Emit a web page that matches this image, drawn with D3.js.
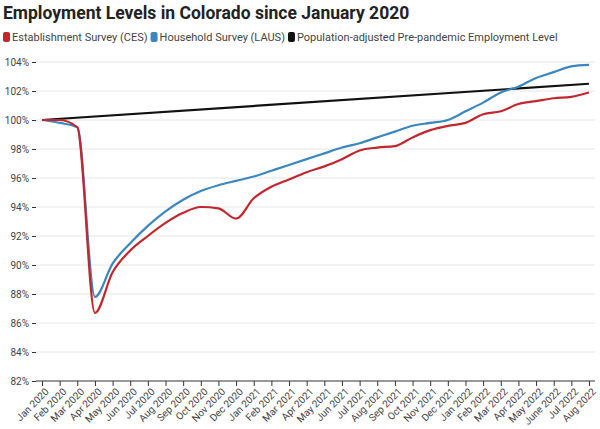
<!DOCTYPE html>
<html><head><meta charset="utf-8">
<script src="https://cdn.jsdelivr.net/npm/d3@7"></script>
<style>body{margin:0;background:#fff;font-family:Roboto,sans-serif}</style>
</head><body><svg id="c" width="600" height="429"></svg>
<script>
var months = ["Jan 2020","Feb 2020","Mar 2020","Apr 2020","May 2020","Jun 2020","Jul 2020","Aug 2020","Sep 2020","Oct 2020","Nov 2020","Dec 2020",
  "Jan 2021","Feb 2021","Mar 2021","Apr 2021","May 2021","Jun 2021","Jul 2021","Aug 2021","Sep 2021","Oct 2021","Nov 2021","Dec 2021",
  "Jan 2022","Feb 2022","Mar 2022","Apr 2022","May 2022","June 2022","Jul 2022","Aug 2022"];
var ces = [100,100,99.5,86.7,89.5,91,92,92.9,93.6,94.0,93.9,93.2,94.6,95.4,95.9,96.4,96.8,97.3,97.9,98.1,98.2,98.8,99.3,99.6,99.8,100.4,100.6,101.1,101.3,101.5,101.6,101.9];
var laus = [100,99.8,99.5,87.8,90.1,91.5,92.7,93.7,94.5,95.1,95.5,95.8,96.1,96.5,96.9,97.3,97.7,98.1,98.4,98.8,99.2,99.6,99.8,100.0,100.6,101.2,101.9,102.3,102.9,103.3,103.7,103.8];
var prePandemic = [[0,100],[31,102.5]];
var yTicks = [82,84,86,88,90,92,94,96,98,100,102,104];

var svg = d3.select("#c");
var x = d3.scalePoint().domain(months).range([42,589]);
var y = d3.scaleLinear().domain([82,104]).range([381,62]);

svg.append("text").attr("x",3).attr("y",19).attr("font-size",17.5).attr("font-weight",700).attr("fill","#222")
  .text("Employment Levels in Colorado since January 2020");

// legend laid out left to right by measured width
var legend = [["Establishment Survey (CES)","#c1272d"],["Household Survey (LAUS)","#3a87c0"],["Population-adjusted Pre-pandemic Employment Level","#111"]];
var lx = 3;
legend.forEach(function(l){
  svg.append("rect").attr("x",lx).attr("y",32).attr("width",7).attr("height",10).attr("rx",2).attr("fill",l[1]);
  var t = svg.append("text").attr("x",lx+9).attr("y",41).attr("font-size",11).attr("fill","#444").text(l[0]);
  lx += 9 + t.node().getComputedTextLength() + 3;
});

var grid = svg.append("g");
yTicks.forEach(function(t){
  if(t>82) grid.append("line").attr("x1",36).attr("x2",595).attr("y1",y(t)).attr("y2",y(t)).attr("stroke","#e6e6e6");
});

svg.append("g").attr("transform","translate(36,0)")
  .call(d3.axisLeft(y).tickValues(yTicks).tickFormat(function(d){return d+"%";}).tickSize(4))
  .call(function(g){g.select(".domain").remove();g.selectAll("line").attr("stroke","#333");
    g.selectAll("text").attr("font-size",10).attr("fill","#444").attr("font-family","Roboto,sans-serif");});

var xa = svg.append("g").attr("transform","translate(0,381)")
  .call(d3.axisBottom(x).tickSize(5));
xa.select(".domain").attr("d","M36,0H595").attr("stroke","#333");
xa.selectAll("line").attr("stroke","#333");
xa.selectAll("text").attr("font-size",10).attr("fill","#444").attr("font-family","Roboto,sans-serif")
  .attr("text-anchor","end").attr("dx","-0.3em").attr("dy","0.5em").attr("transform","rotate(-45)");

var line = d3.line().x(function(d,i){return x(months[i]);}).y(function(d){return y(d);}).curve(d3.curveMonotoneX);
svg.append("path").datum(prePandemic).attr("fill","none").attr("stroke","#111").attr("stroke-width",2.2)
  .attr("d",d3.line().x(function(d){return x(months[d[0]]);}).y(function(d){return y(d[1]);}));
svg.append("path").datum(laus).attr("fill","none").attr("stroke","#3a87c0").attr("stroke-width",2.2).attr("d",line);
svg.append("path").datum(ces).attr("fill","none").attr("stroke","#c1272d").attr("stroke-width",2.2).attr("d",line);
</script></body></html>
